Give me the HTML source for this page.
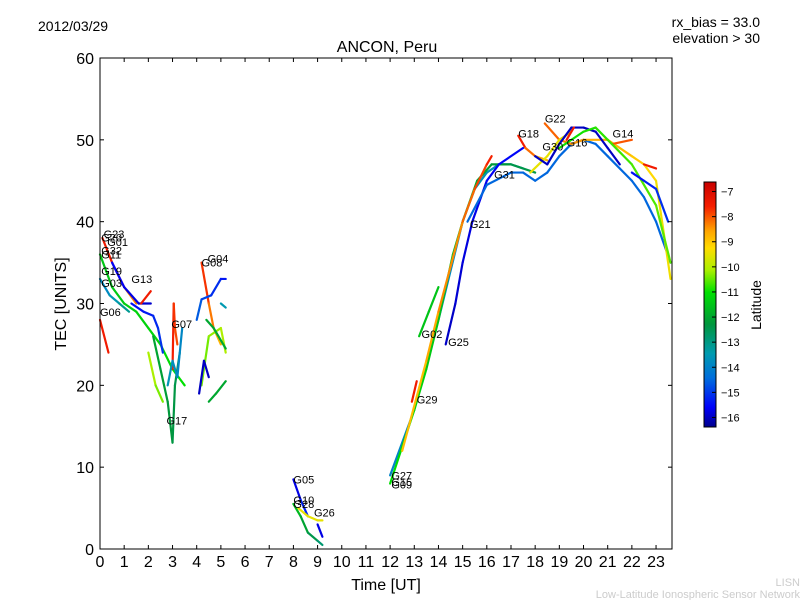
<!DOCTYPE html>
<html><head><meta charset="utf-8"><style>
body{margin:0;background:#fff;}
svg{display:block;font-family:"Liberation Sans","DejaVu Sans",sans-serif;}
</style></head><body>
<svg id="chart" width="800" height="600" viewBox="0 0 800 600">
<rect width="800" height="600" fill="#fff"/>
<text x="38" y="31" font-size="14">2012/03/29</text>
<text x="760" y="27" font-size="14" text-anchor="end">rx_bias = 33.0</text>
<text x="760" y="43" font-size="14" text-anchor="end">elevation &gt; 30</text>
<text x="387" y="52" font-size="16" text-anchor="middle">ANCON, Peru</text>
<text x="386" y="590" font-size="16" text-anchor="middle">Time [UT]</text>
<text transform="translate(66,304) rotate(-90)" font-size="16" text-anchor="middle">TEC [UNITS]</text>
<text x="800" y="586" font-size="11" fill="#ccc" text-anchor="end">LISN</text>
<text x="800" y="598" font-size="11" fill="#ccc" text-anchor="end">Low-Latitude Ionospheric Sensor Network</text>
<g id="marks"></g>
<g id="axes"></g>
<defs><linearGradient id="cmapgrad" x1="0" y1="1" x2="0" y2="0"></linearGradient></defs>
<rect x="704" y="182" width="12" height="245" fill="url(#cmapgrad)" stroke="#000"/>
<g id="cbar"></g>
<text transform="translate(761,305) rotate(-90)" font-size="14" text-anchor="middle">Latitude</text>
</svg>
<script>
const xTicks=[0,1,2,3,4,5,6,7,8,9,10,11,12,13,14,15,16,17,18,19,20,21,22,23];
const yTicks=[0,10,20,30,40,50,60];
const cbarTicks=[-7,-8,-9,-10,-11,-12,-13,-14,-15,-16];
const trackTimes=[
[0,0.35],[0.1,0.5,1,1.5],[0.5,1,1.6,2.1],[0,0.5,1,1.5,2,2.5,3,3.5],[0,0.4,0.8,1.2],
[1.3,1.8,2.2,2.4,2.6],[1.7,2.1],[3,3.05,3.1,3.2],[2.2,2.5,2.8,3,3.1,3.3],[2,2.3,2.6],[2.8,3.0,3.2,3.4],
[4.2,4.5,4.7,5],[4,4.2,4.6,5,5.2],[4.5,4.8,5.2],[4.2,4.5,5,5.2],[4.4,4.7,5.2],[5,5.2],[4.1,4.3,4.5],
[8,8.3,8.6],[8,8.3,8.6,9,9.2],[8.2,8.6,9,9.2],[9,9.2],
[12,13,14,15,15.5,16,16.5,17,17.5],[12,13,13.5,14,14.6,15,15.6,16.2,17,18],[12.9,13.1],[13.2,13.6,14],
[14.3,14.7,15,15.4,16,16.5,17.5],[12.5,13.5,14,15,15.5,16,16.2],
[15.2,16,17,17.5,18,18.5,19,19.5,20,20.5,21,22,22.5,23,23.6],[17.3,17.6,18,18.5],
[18.4,19,19.5,20,21,22,22.5,23,23.6],[17.8,18.5,19,19.5],[18,18.5,19,19.5,20,20.5,21,21.5],
[19.3,19.6],[21.2,22],[19,20,20.5,21,22,23,23.6],[22,22.5,23,23.5],[22.5,23]];
const trackTec=[
[28,24],[38,35,32,30],[35,32,30,30],[36,32,30,29,27,25,22,20],[33,31,30,29],
[30,29,28.5,27,24],[30,31.5],[22,30,27,25],[26,22,18,13,20,24],[24,20,18],[20,23,21,27],
[35,30,27,25],[28,30.5,31,33,33],[18,19,20.5],[20,26,27,24],[28,27,24.5],[30,29.5],[19,23,21],
[8.5,6,4],[5.5,4,2,1,0.5],[5,4,3.5,3.5],[3,1.5],
[9,17,28,40,44,46,47,47,46.5],[8,17,22,28,36,40,45,47,47,46],[18,20.5],[26,29,32],
[25,30,35,40,45,47,49],[12,23,29,40,44,47,48],
[40,44.5,46,46,45,46,48,49.5,50,49.5,48,45,43,40,35],[50.5,49,48,47.5],
[52,50,49.5,50,50,48,47,45,33],[46,48,50,51],[48,47,49.5,51.5,51.5,51,49,47],
[50,51.5],[49.5,50],[49,51,51.5,50,47,42,35],[46,45,44,40],[47,46.5]];
const trackLat=[
[-7.5,-7.5],[-7.3,-8.5],[-15.5,-16],[-11.5,-11],[-14,-13],
[-15.5,-15],[-7.5,-7.5],[-7.5,-8],[-12,-12.5],[-10,-10.5],[-13.5,-14],
[-7.5,-9],[-14.5,-15.5],[-12,-12],[-10.5,-10],[-12,-12],[-13.5,-13.5],[-16,-16],
[-16,-15],[-11.5,-13],[-9.5,-9.5],[-16,-15.5],
[-14,-13.5],[-11,-12.5],[-7.5,-7.5],[-11.5,-11.5],
[-16,-15.5],[-9,-7.5],
[-14.5,-14.5],[-7.3,-9],[-8,-9.5],[-9.5,-9.5],[-16,-16],
[-7.5,-7.5],[-8.5,-7.5],[-11,-10.5],[-15.5,-15],[-7.5,-7.5]];
const labelNames=["G23","G20","G01","G32","G11","G19","G03","G06","G13","G07","G17","G04","G08","G05","G10","G28","G26","G27","G15","G09","G29","G02","G25","G21","G31","G18","G22","G30","G16","G14"];
const labelTimes=[0.15,0.05,0.3,0.05,0.05,0.05,0.05,0,1.3,2.95,2.75,4.45,4.2,8,8,8,8.85,12.05,12.05,12.05,13.1,13.3,14.4,15.3,16.3,17.3,18.4,18.3,19.3,21.2];
const labelTecs=[38,37.6,37,36,35.5,33.5,32,28.5,32.5,27,15.2,35,34.5,8,5.5,5,4,8.5,7.7,7.4,17.8,25.8,24.8,39.2,45.3,50.3,52.1,48.7,49.2,50.3];

const X0=100,X1=672,Y0=549,Y1=58,XMAX=23.66,YMAX=60;
const sx=t=>X0+t/XMAX*(X1-X0);
const sy=v=>Y0-v/YMAX*(Y0-Y1);
const NS="http://www.w3.org/2000/svg";
const CM=[[0,[0,0,140]],[0.08,[0,0,250]],[0.2,[0,110,220]],[0.3,[0,155,175]],[0.42,[0,150,60]],[0.55,[0,225,0]],[0.64,[170,240,0]],[0.73,[255,220,0]],[0.8,[255,165,0]],[0.9,[245,30,0]],[1,[200,0,0]]];
function cmap(v){
  v=Math.max(0,Math.min(1,v));
  for(let i=0;i<CM.length-1;i++){
    const [a,ca]=CM[i],[b,cb]=CM[i+1];
    if(v<=b){const f=(v-a)/(b-a);return 'rgb('+ca.map((c,j)=>Math.round(c+(cb[j]-c)*f)).join(',')+')';}
  }
  return 'rgb(200,0,0)';
}
const grad=document.getElementById('cmapgrad');
CM.forEach(([o,c])=>{const s=document.createElementNS(NS,'stop');s.setAttribute('offset',o);s.setAttribute('stop-color','rgb('+c.join(',')+')');grad.appendChild(s);});
const LMIN=-16.38,LMAX=-6.62;
const latColor=l=>cmap((l-LMIN)/(LMAX-LMIN));
const marks=document.getElementById('marks');
trackTimes.forEach((ts,i)=>{
  const vs=trackTec[i],la=trackLat[i];
  for(let k=0;k<ts.length-1;k++){
    const frac=ts.length>2?(k+0.5)/(ts.length-1):0.5;
    const ln=document.createElementNS(NS,'line');
    ln.setAttribute('x1',sx(ts[k]));ln.setAttribute('y1',sy(vs[k]));
    ln.setAttribute('x2',sx(ts[k+1]));ln.setAttribute('y2',sy(vs[k+1]));
    ln.setAttribute('stroke',latColor(la[0]+(la[1]-la[0])*frac));
    ln.setAttribute('stroke-width','2.2');ln.setAttribute('stroke-linecap','round');
    
    
    marks.appendChild(ln);
  }
});
labelNames.forEach((n,i)=>{
  const t=document.createElementNS(NS,'text');
  t.setAttribute('x',sx(labelTimes[i]));t.setAttribute('y',sy(labelTecs[i]));
  t.setAttribute('font-size','11');t.textContent=n;
  
  
  marks.appendChild(t);
});
const axes=document.getElementById('axes');
const fr=document.createElementNS(NS,'rect');
fr.setAttribute('x',X0);fr.setAttribute('y',Y1);fr.setAttribute('width',X1-X0);fr.setAttribute('height',Y0-Y1);
fr.setAttribute('fill','none');fr.setAttribute('stroke','#000');


axes.appendChild(fr);
xTicks.forEach(v=>{
  const x=sx(v);
  [[Y0,Y0-4],[Y1,Y1+4]].forEach(([a,b])=>{const l=document.createElementNS(NS,'line');
    l.setAttribute('x1',x);l.setAttribute('x2',x);l.setAttribute('y1',a);l.setAttribute('y2',b);l.setAttribute('stroke','#000');
    
    
    axes.appendChild(l);});
  const t=document.createElementNS(NS,'text');
  t.setAttribute('x',x);t.setAttribute('y',Y0+18);t.setAttribute('font-size','16');t.setAttribute('text-anchor','middle');t.textContent=v;
  
  
  axes.appendChild(t);
});
yTicks.forEach(v=>{
  const y=sy(v);
  [[X0,X0+4],[X1,X1-4]].forEach(([a,b])=>{const l=document.createElementNS(NS,'line');
    l.setAttribute('y1',y);l.setAttribute('y2',y);l.setAttribute('x1',a);l.setAttribute('x2',b);l.setAttribute('stroke','#000');
    
    
    axes.appendChild(l);});
  const t=document.createElementNS(NS,'text');
  t.setAttribute('x',X0-6);t.setAttribute('y',y+6);t.setAttribute('font-size','16');t.setAttribute('text-anchor','end');t.textContent=v;
  
  
  axes.appendChild(t);
});
const cb=document.getElementById('cbar');
const cy=l=>427-(l-LMIN)/(LMAX-LMIN)*245;
cbarTicks.forEach(v=>{
  const y=cy(v);
  const l=document.createElementNS(NS,'line');
  l.setAttribute('x1',712);l.setAttribute('x2',716);l.setAttribute('y1',y);l.setAttribute('y2',y);l.setAttribute('stroke','#000');
  
  
  cb.appendChild(l);
  const t=document.createElementNS(NS,'text');
  t.setAttribute('x',721);t.setAttribute('y',y+4);t.setAttribute('font-size','11');t.textContent='\u2212'+Math.abs(v);
  
  
  cb.appendChild(t);
});
</script>
</body></html>
